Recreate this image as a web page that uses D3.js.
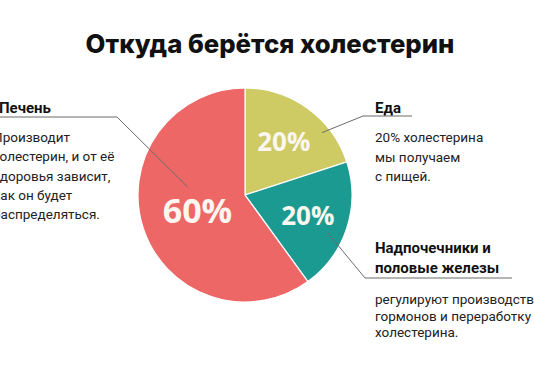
<!DOCTYPE html>
<html>
<head>
<meta charset="utf-8">
<script src="https://cdn.jsdelivr.net/npm/d3@7"></script>
<style>
  html, body { margin: 0; padding: 0; background: #fff; overflow: hidden; }
  svg { display: block; }
</style>
</head>
<body>
<div id="chart"></div>
<script>
// Data
const title = 'Откуда берётся холестерин';
const categories = ['Еда', 'Надпочечники и половые железы', 'Печень'];
const values = [20, 20, 60];
const sliceColors = ['#cecb65', '#1b9a91', '#ed6767'];

// Callout texts
const headings = [
  ['Еда'],
  ['Надпочечники и', 'половые железы'],
  ['Печень']
];
const bodies = [
  ['20% холестерина', 'мы получаем', 'с пищей.'],
  ['регулируют производство', 'гормонов и переработку', 'холестерина.'],
  ['Производит', 'холестерин, и от её', 'здоровья зависит,', 'как он будет', 'распределяться.']
];

const width = 534, height = 370;
const cx = 245, cy = 195, radius = 107;

const svg = d3.select('#chart').append('svg')
  .attr('width', width)
  .attr('height', height);

// Title
svg.append('text')
  .attr('x', 270)
  .attr('y', 53)
  .attr('text-anchor', 'middle')
  .attr('font-family', 'Inter, "Noto Sans", sans-serif')
  .attr('font-weight', 800)
  .attr('font-size', 25.7)
  .attr('fill', '#111')
  .text(title);

// Pie
const pie = d3.pie().sort(null).value(d => d);
const arcs = pie(values);
const arc = d3.arc().innerRadius(0).outerRadius(radius);

const g = svg.append('g').attr('transform', `translate(${cx},${cy})`);

g.selectAll('path.slice')
  .data(arcs)
  .join('path')
  .attr('class', 'slice')
  .attr('d', arc)
  .attr('fill', (d, i) => sliceColors[i])
  .attr('stroke', '#fff')
  .attr('stroke-width', 1.2);

// Callouts: leader anchor inside the pie (angle deg, radius), elbow, underline end
const callouts = [
  { anchor: [51, 99], elbow: [363, 116], end: 412, tx: 375, hy: 113, by: 142, dy: 19.5 },
  { anchor: [114.6, 91], elbow: [365, 278], end: 512, tx: 375, hy: 253, by: 304, dy: 16.5 },
  { anchor: [278, 58], elbow: [117, 117], end: -2, tx: -1, hy: 113, by: 142, dy: 19.3, bodyX: -7 }
];

callouts.forEach((c, i) => {
  const a = c.anchor[0] * Math.PI / 180;
  const ax = cx + c.anchor[1] * Math.sin(a);
  const ay = cy - c.anchor[1] * Math.cos(a);

  svg.append('polyline')
    .attr('points', [[ax, ay], c.elbow, [c.end, c.elbow[1]]].map(p => p.join(',')).join(' '))
    .attr('fill', 'none')
    .attr('stroke', '#6b6b6b')
    .attr('stroke-width', 1);

  headings[i].forEach((line, j) => {
    svg.append('text')
      .attr('x', c.tx)
      .attr('y', c.hy + j * 20)
      .attr('font-family', 'Roboto, "Liberation Sans", sans-serif')
      .attr('font-weight', 700)
      .attr('font-size', 15)
      .attr('fill', '#111')
      .text(line);
  });

  bodies[i].forEach((line, j) => {
    svg.append('text')
      .attr('x', c.bodyX != null ? c.bodyX : c.tx)
      .attr('y', c.by + j * c.dy)
      .attr('font-family', 'Roboto, "Liberation Sans", sans-serif')
      .attr('font-size', 13.5)
      .attr('fill', '#222')
      .text(line);
  });
});

// Percentage labels inside slices (drawn over the leader lines)
const labelRadius = [66, 66, 50];
const labelSize = [26, 26, 34];
const labelArc = d3.arc();
g.selectAll('text.pct')
  .data(arcs)
  .join('text')
  .attr('class', 'pct')
  .each(function(d, i) {
    const [x, y] = labelArc.innerRadius(labelRadius[i]).outerRadius(labelRadius[i]).centroid(d);
    d3.select(this)
      .attr('x', x)
      .attr('y', y + labelSize[i] * 0.36)
      .attr('font-size', labelSize[i]);
  })
  .attr('text-anchor', 'middle')
  .attr('font-family', '"Open Sans", "Noto Sans", sans-serif')
  .attr('font-weight', 700)
  .attr('fill', '#fbf6ef')
  .text(d => d.data + '%');
</script>
</body>
</html>
